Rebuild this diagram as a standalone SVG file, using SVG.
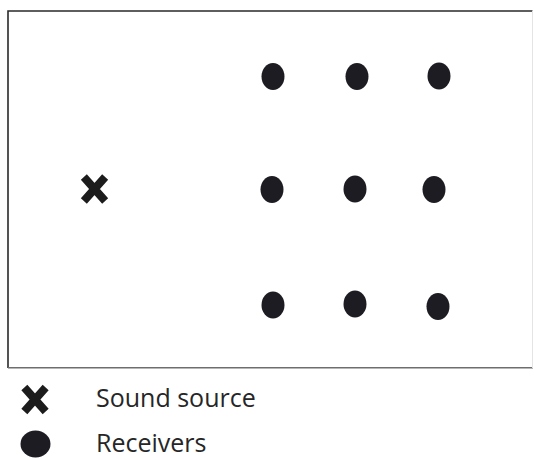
<svg xmlns="http://www.w3.org/2000/svg" width="534" height="460" viewBox="0 0 534 460">
<style>
.dot{fill:#1c1c22}
.cross{stroke:#1c1c1c;stroke-width:8;stroke-linecap:square;fill:none}
.lbl{font-family:"Open Sans","Noto Sans",sans-serif;font-size:25px;fill:#262626}
</style>
<defs>
<g id="x"><path class="cross" d="M-8,-9 L8,9 M8,-9 L-8,9"/></g>
</defs>
<rect x="0" y="0" width="534" height="460" fill="#fff"/>
<g id="frame">
<path d="M8,368 L8,11 L532.5,11" fill="none" stroke="#2a2a2a" stroke-width="1.6"/>
<path d="M8,367.7 L533,367.7" fill="none" stroke="#6e6e6e" stroke-width="1.6"/>
<path d="M532.5,11 L532.5,368" fill="none" stroke="#e4e4e4" stroke-width="1"/>
</g>
<g id="source"><use href="#x" x="94.5" y="189"/></g>
<g id="r11"><ellipse class="dot" cx="273" cy="76.5" rx="11.5" ry="13.5"/></g>
<g id="r12"><ellipse class="dot" cx="357" cy="76.5" rx="11.5" ry="13.5"/></g>
<g id="r13"><ellipse class="dot" cx="439" cy="76" rx="11.5" ry="13.5"/></g>
<g id="r21"><ellipse class="dot" cx="272" cy="189.5" rx="11.5" ry="13.5"/></g>
<g id="r22"><ellipse class="dot" cx="355" cy="189" rx="11.5" ry="13.5"/></g>
<g id="r23"><ellipse class="dot" cx="434" cy="189.5" rx="11.5" ry="13.5"/></g>
<g id="r31"><ellipse class="dot" cx="273" cy="305" rx="11.5" ry="13.5"/></g>
<g id="r32"><ellipse class="dot" cx="355" cy="304" rx="11.5" ry="13.5"/></g>
<g id="r33"><ellipse class="dot" cx="438" cy="306.5" rx="11.5" ry="13.5"/></g>
<g id="legend">
<use href="#x" x="35" y="399.5"/>
<text class="lbl" x="96" y="407">Sound source</text>
<ellipse class="dot" cx="35.5" cy="444" rx="15" ry="13.5"/>
<text class="lbl" x="96" y="452">Receivers</text>
</g>
</svg>
